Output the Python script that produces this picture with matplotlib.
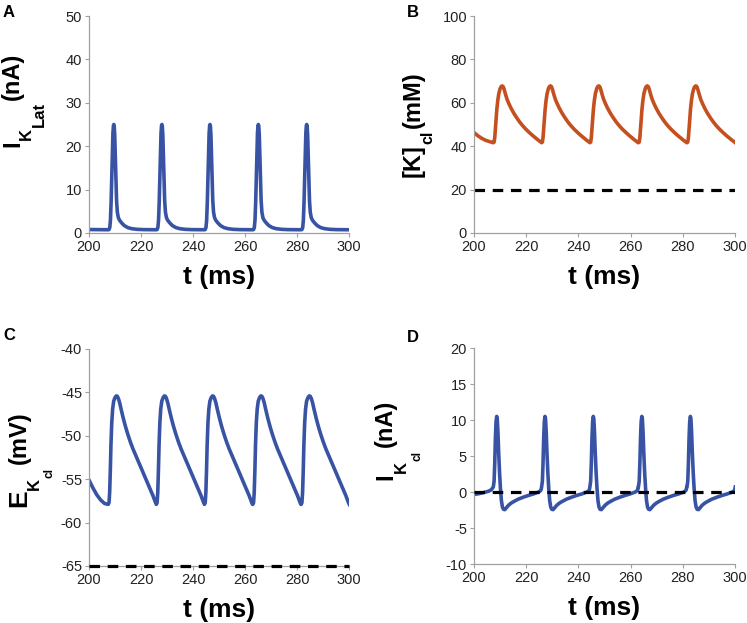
import matplotlib
matplotlib.use('Agg')
import matplotlib.pyplot as plt
import numpy as np

plt.rcParams['font.family'] = ['Liberation Sans', 'DejaVu Sans']
plt.rcParams['axes.unicode_minus'] = False

# start of each spike cycle (ms)
cycle_starts = [207.4, 225.9, 244.4, 263.0, 281.6]

# A: I_KLat (nA); lead-in before first spike, then one cycle (offsets from cycle start)
a_lead_t = [200.0, 203.0, 207.4]
a_lead_v = [0.8, 0.78, 0.75]
a_cyc_t = [0.0, 0.3, 0.6, 0.85, 1.1, 1.35, 1.6, 1.8, 2.0, 2.15, 2.3, 2.5, 2.7, 2.95,
           3.2, 3.5, 3.9, 4.4, 5.2, 6.2, 7.5, 9.0, 11.0, 13.5, 18.5]
a_cyc_v = [0.75, 0.8, 1.3, 3.0, 7.0, 13.0, 19.0, 23.0, 24.8, 25.0, 24.6, 22.5, 18.0, 12.0,
           7.5, 4.8, 3.5, 2.9, 2.3, 1.7, 1.25, 1.0, 0.85, 0.78, 0.75]

# B: [K]cl (mM)
b_lead_t = [200.0, 201.5, 203.0, 204.5, 206.0, 207.4]
b_lead_v = [46.3, 44.8, 43.6, 42.7, 42.1, 41.6]
b_cyc_t = [0.0, 0.3, 0.55, 0.8, 1.05, 1.35, 1.7, 2.1, 2.6, 3.0, 3.4, 3.8, 4.2, 4.7,
           5.3, 6.0, 6.8, 7.8, 8.8, 10.0, 11.2, 12.5, 13.8, 15.0, 16.2, 17.2, 17.9, 18.5]
b_cyc_v = [41.6, 41.9, 44.0, 48.0, 52.5, 57.0, 61.0, 64.2, 66.5, 67.5, 67.8, 67.4, 66.0, 63.8,
           61.5, 59.5, 57.5, 55.3, 53.4, 51.3, 49.5, 47.8, 46.3, 45.0, 43.8, 42.8, 42.2, 41.6]
b_ref = 20.0

# C: E_Kcl (mV)
c_lead_t = [200.0, 201.5, 203.0, 204.5, 206.0, 207.4]
c_lead_v = [-55.1, -56.0, -56.8, -57.4, -57.8, -57.9]
c_cyc_t = [0.0, 0.3, 0.55, 0.8, 1.05, 1.35, 1.7, 2.1, 2.6, 3.1, 3.5, 3.9, 4.4, 5.0,
           5.8, 6.6, 7.5, 8.5, 9.5, 10.5, 11.5, 12.5, 13.5, 14.5, 15.5, 16.4, 17.2, 17.8, 18.2, 18.5]
c_cyc_v = [-57.9, -57.7, -56.5, -54.0, -51.0, -48.5, -46.9, -46.0, -45.6, -45.4, -45.45, -45.7, -46.2, -47.0,
           -48.0, -48.9, -49.8, -50.7, -51.5, -52.2, -52.9, -53.6, -54.3, -55.0, -55.7, -56.3, -56.9, -57.4, -57.7, -57.9]
c_ref = -65.0

# D: I_Kcl (nA)
d_lead_t = [200.0, 202.0, 204.0, 205.5, 206.6, 207.4]
d_lead_v = [-0.35, -0.22, -0.05, 0.1, 0.3, 0.7]
d_cyc_t = [0.0, 0.3, 0.55, 0.8, 1.05, 1.3, 1.5, 1.75, 2.05, 2.4, 2.75, 3.1, 3.5, 3.9,
           4.4, 5.0, 5.8, 6.8, 7.7, 9.5, 11.5, 13.5, 15.3, 16.5, 17.4, 18.0, 18.3, 18.5]
d_cyc_v = [0.7, 1.5, 4.0, 7.5, 9.8, 10.5, 10.2, 8.5, 5.5, 2.6, 0.4, -1.2, -2.1, -2.4,
           -2.45, -2.2, -1.85, -1.55, -1.35, -1.0, -0.72, -0.47, -0.28, -0.12, 0.0, 0.15, 0.3, 0.7]
d_ref = 0.0

blue = '#3853a4'
orange = '#c4501f'
spine_gray = '#a0a0a0'


def build(lead_t, lead_v, cyc_t, cyc_v):
    t = list(lead_t)
    v = list(lead_v)
    for s in cycle_starts:
        t += [s + o for o in cyc_t]
        v += list(cyc_v)
    return t, v


fig = plt.figure(figsize=(7.47, 6.23), dpi=100)
W, H = 747.0, 623.0
renderer = fig.canvas.get_renderer()


def make_ax(x0, x1, ytop, ybot):
    return fig.add_axes([x0 / W, 1 - ybot / H, (x1 - x0) / W, (ybot - ytop) / H])


def stacked_label(ax, bx, cy, parts):
    # rotated y label built from pieces: (text, fontsize, drop_px, gap_px)
    widths = []
    for s, fs, drop, gap in parts:
        tmp = fig.text(0, 0, s, fontsize=fs, fontweight='bold')
        widths.append(tmp.get_window_extent(renderer).width + gap)
        tmp.remove()
    x0, y0 = ax.transAxes.transform((bx, cy))
    y = y0 - sum(widths) / 2
    for (s, fs, drop, gap), w in zip(parts, widths):
        fig.text((x0 + drop) / W, y / H, s, fontsize=fs, fontweight='bold',
                 rotation=90, rotation_mode='anchor', ha='left', va='baseline')
        y += w


axA = make_ax(89, 349, 16, 233)
axB = make_ax(474, 735, 16, 233)
axC = make_ax(89, 349, 349, 566)
axD = make_ax(474, 735, 348, 564)

for ax in (axA, axB, axC, axD):
    for s in ('top', 'right'):
        ax.spines[s].set_visible(False)
    for s in ('left', 'bottom'):
        ax.spines[s].set_color(spine_gray)
        ax.spines[s].set_linewidth(0.9)
    ax.tick_params(direction='out', length=3, width=0.8, color=spine_gray,
                   labelsize=10.5, labelcolor='#222222', pad=2)
    ax.set_xlim(200, 300)
    ax.set_xticks(np.arange(200, 301, 20))
    ax.set_xlabel('t (ms)', fontsize=19, fontweight='bold', labelpad=8)

dash = dict(color='black', lw=2.3, dashes=(3.3, 2.4))

t, v = build(a_lead_t, a_lead_v, a_cyc_t, a_cyc_v)
axA.plot(t, v, color=blue, lw=2.6)
axA.set_ylim(0, 50)
axA.set_yticks(np.arange(0, 51, 10))
stacked_label(axA, -0.269, 0.613, [('I', 17, 0, 1), ('K', 12, 12, 1), ('Lat', 12, 25, 2), ('(nA)', 17, 0, 0)])

t, v = build(b_lead_t, b_lead_v, b_cyc_t, b_cyc_v)
axB.plot(t, v, color=orange, lw=2.6)
axB.plot([200, 300], [b_ref, b_ref], **dash)
axB.set_ylim(0, 100)
axB.set_yticks(np.arange(0, 101, 20))
stacked_label(axB, -0.207, 0.502, [('[K]', 17, 0, 0), ('cl', 11.5, 12, 3), ('(mM)', 17, 0, 0)])

t, v = build(c_lead_t, c_lead_v, c_cyc_t, c_cyc_v)
axC.plot(t, v, color=blue, lw=2.6)
axC.plot([200, 300], [c_ref, c_ref], clip_on=False, zorder=5, **dash)
axC.set_ylim(-65, -40)
axC.set_yticks(np.arange(-65, -39, 5))
stacked_label(axC, -0.242, 0.493, [('E', 19, 0, 0), ('K', 12, 13, 0), ('cl', 8.5, 26, 4), ('(mV)', 17, 0, 0)])

t, v = build(d_lead_t, d_lead_v, d_cyc_t, d_cyc_v)
axD.plot(t, v, color=blue, lw=2.6)
axD.plot([200, 300], [d_ref, d_ref], zorder=3, **dash)
axD.set_ylim(-10, 20)
axD.set_yticks(np.arange(-10, 21, 5))
stacked_label(axD, -0.314, 0.574, [('I', 17, 0, 1), ('K', 12, 14, 0), ('cl', 8.5, 28, 4), ('(nA)', 17, 0, 0)])

for lab, x, y in (('A', 9, 12.5), ('B', 413, 12.5), ('C', 9, 336), ('D', 413, 337)):
    fig.text(x / W, 1 - y / H, lab, ha='center', va='center', fontsize=12, fontweight='bold')

fig.savefig('out.png', dpi=100)
